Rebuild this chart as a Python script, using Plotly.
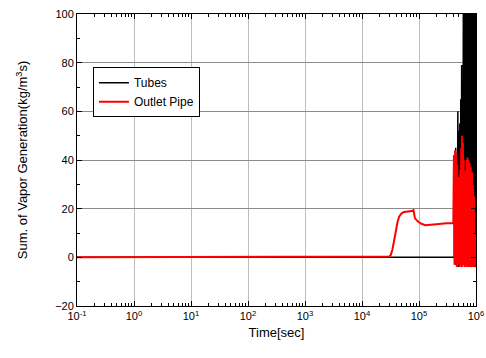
import plotly.graph_objects as go

# ---- data ----
tubes_flat_t = [0.1, 1.0, 10.0, 100.0, 1000.0, 10000.0, 100000.0, 415000.0]
tubes_flat_v = [0, 0, 0, 0, 0, 0, 0, 0]

tubes_osc_t = [420000, 430000, 440000, 450000, 460000, 470000, 480000, 490000, 500000, 510000,
               520000, 530000, 540000, 550000, 560000, 570000, 580000, 590000, 600000, 610000,
               620000, 630000, 640000, 650000, 660000, 670000, 680000, 690000, 700000, 710000,
               720000, 730000, 740000, 750000, 760000, 770000, 780000, 790000, 800000, 810000,
               820000, 830000, 840000, 850000, 860000, 870000, 880000, 890000, 900000, 910000,
               920000, 930000, 940000, 950000, 960000, 970000, 980000, 990000, 1000000]
tubes_osc_v = [35, -3, 45, -2, 40, -3, 60, -4, 52, -3,
               55, -2, 65, -3, 79, -4, 72, -3, 110, -2,
               130, -3, 125, -4, 140, -3, 135, -2, 150, -3,
               128, -4, 140, -3, 132, -2, 145, -3, 138, -4,
               150, -3, 126, -2, 140, -3, 133, -4, 145, -3,
               130, -2, 138, -3, 128, -4, 120, -3, 110]

pipe_t = [0.1, 1.0, 10.0, 100.0, 1000.0, 10000.0, 28000.0, 30000.0, 32000.0, 34000.0,
          36000.0, 38000.0, 40000.0, 42000.0, 45000.0, 50000.0, 55000.0, 65000.0, 75000.0,
          80000.0, 85000.0, 95000.0, 110000.0, 130000.0, 160000.0, 200000.0, 250000.0,
          300000.0, 400000.0]
pipe_v = [0, 0, 0, 0, 0, 0, 0, 0.3, 1.0, 3.0,
          6.0, 9.0, 12.0, 14.5, 16.8, 18.2, 18.6, 18.8, 19.0,
          19.4, 16.0, 14.8, 13.8, 13.2, 13.3, 13.6, 13.8,
          14.0, 14.0]

pipe_osc_t = [410000, 420000, 430000, 440000, 450000, 460000, 470000, 480000, 490000, 500000,
              510000, 520000, 530000, 540000, 550000, 560000, 570000, 580000, 590000, 600000,
              610000, 620000, 630000, 640000, 650000, 660000, 670000, 680000, 690000, 700000,
              710000, 720000, 730000, 740000, 750000, 760000, 770000, 780000, 790000, 800000,
              810000, 820000, 830000, 840000, 850000, 860000, 870000, 880000, 890000, 900000,
              910000, 920000, 930000, 940000, 950000, 960000, 970000, 980000]
pipe_osc_v = [42, -3, 44, -2, 43, -4, 38, -3, 30, -2,
              33, -4, 36, -3, 45, -2, 50, -4, 47, -3,
              40, -2, 35, -4, 34, -3, 36, -2, 40, -4,
              41, -3, 40, -2, 38, -4, 39, -3, 38, -2,
              37, -4, 36, -3, 35, -2, 33, -4, 30, -3,
              28, -2, 25, -4, 20, -3, 10, -2]

x_tick_vals = [0.1, 1, 10, 100, 1000, 10000, 100000, 1000000]
x_tick_text = ["10<sup>-1</sup>", "10<sup>0</sup>", "10<sup>1</sup>", "10<sup>2</sup>",
               "10<sup>3</sup>", "10<sup>4</sup>", "10<sup>5</sup>", "10<sup>6</sup>"]
y_tick_vals = [-20, 0, 20, 40, 60, 80, 100]

# ---- figure ----
minor_x = [m * 10.0 ** k for k in range(-1, 6) for m in range(2, 10)]

fig = go.Figure()
fig.add_trace(go.Scatter(x=tubes_flat_t + tubes_osc_t, y=tubes_flat_v + tubes_osc_v,
                         mode="lines", name="Tubes",
                         line=dict(color="black", width=1.5)))
fig.add_trace(go.Scatter(x=pipe_t + pipe_osc_t, y=pipe_v + pipe_osc_v,
                         mode="lines", name="Outlet Pipe",
                         line=dict(color="#ff0000", width=2)))

font = "Liberation Sans, Arial, sans-serif"
fig.update_layout(
    width=486, height=358,
    margin=dict(l=77, r=10, t=14, b=52, autoexpand=False),
    paper_bgcolor="white", plot_bgcolor="white",
    font=dict(family=font, size=12, color="black"),
    showlegend=True,
    legend=dict(x=0.04, y=0.818, xanchor="left", yanchor="top",
                bordercolor="black", borderwidth=1, bgcolor="white",
                font=dict(size=12), tracegroupgap=0, itemwidth=30),
)
fig.update_xaxes(
    type="log", range=[-1, 6], automargin=False,
    tickmode="array", tickvals=x_tick_vals, ticktext=x_tick_text,
    ticks="inside", ticklen=5, tickcolor="black",
    showline=True, linecolor="black", linewidth=1, mirror="allticks",
    showgrid=True, gridcolor="#bdbdbd", gridwidth=1,
    zeroline=False,
    minor=dict(tickmode="array", tickvals=minor_x, ticks="inside", ticklen=3,
               tickcolor="black", showgrid=False),
    tickfont=dict(size=11),
    title=dict(text="Time[sec]", font=dict(size=13), standoff=6),
)
fig.update_yaxes(
    range=[-20, 100], automargin=False,
    tickmode="array", tickvals=y_tick_vals,
    ticks="inside", ticklen=5, tickcolor="black",
    showline=True, linecolor="black", linewidth=1, mirror="allticks",
    showgrid=True, gridcolor="#8c8c8c", gridwidth=1,
    zeroline=False,
    minor=dict(dtick=10, ticks="inside", ticklen=3, tickcolor="black", showgrid=False),
    tickfont=dict(size=11),
    title=dict(text="Sum. of Vapor Generation(kg/m<sup>3</sup>s)", font=dict(size=13), standoff=24),
)

fig.write_html("out.html")
